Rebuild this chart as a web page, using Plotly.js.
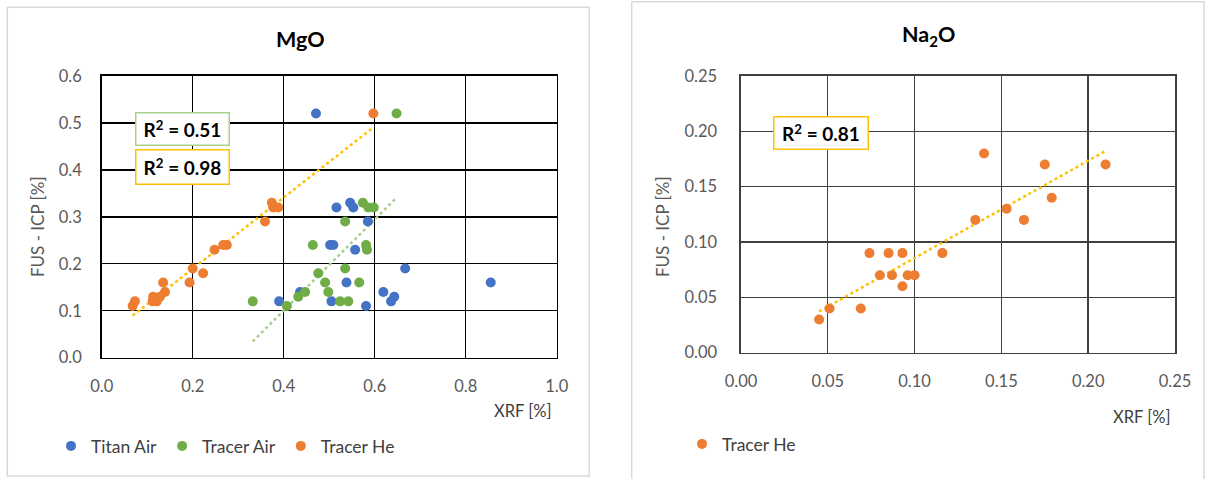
<!DOCTYPE html>
<html>
<head>
<meta charset="utf-8">
<script src="https://cdn.plot.ly/plotly-3.0.1.min.js"></script>
<style>html,body{margin:0;padding:0;background:#fff}#chart{width:1206px;height:479px}</style>
</head>
<body>
<div id="chart"></div>
<script>
// ---- MgO data ----
var titanAirX  = [0.390, 0.436, 0.471, 0.502, 0.509, 0.505, 0.516, 0.546, 0.553, 0.538, 0.557, 0.585, 0.581, 0.619, 0.636, 0.643, 0.667, 0.855];
var titanAirY  = [0.12, 0.14, 0.52, 0.24, 0.24, 0.12, 0.32, 0.33, 0.32, 0.16, 0.23, 0.29, 0.11, 0.14, 0.12, 0.13, 0.19, 0.16];
var tracerAirX = [0.332, 0.407, 0.432, 0.447, 0.464, 0.476, 0.491, 0.498, 0.524, 0.542, 0.535, 0.566, 0.535, 0.574, 0.586, 0.598, 0.581, 0.583, 0.648];
var tracerAirY = [0.12, 0.11, 0.13, 0.14, 0.24, 0.18, 0.16, 0.14, 0.12, 0.12, 0.19, 0.16, 0.29, 0.33, 0.32, 0.32, 0.24, 0.23, 0.52];
var tracerHeX  = [0.068, 0.073, 0.112, 0.121, 0.113, 0.128, 0.139, 0.135, 0.193, 0.200, 0.223, 0.248, 0.267, 0.275, 0.359, 0.374, 0.377, 0.388, 0.597];
var tracerHeY  = [0.11, 0.12, 0.12, 0.12, 0.13, 0.13, 0.14, 0.16, 0.16, 0.19, 0.18, 0.23, 0.24, 0.24, 0.29, 0.33, 0.32, 0.32, 0.52];
var mgoR2Air = "0.51", mgoR2He = "0.98";

// ---- Na2O data ----
var naHeX = [0.045, 0.051, 0.069, 0.074, 0.085, 0.093, 0.080, 0.087, 0.093, 0.096, 0.100, 0.116, 0.135, 0.140, 0.153, 0.163, 0.175, 0.179, 0.210];
var naHeY = [0.03, 0.04, 0.04, 0.09, 0.09, 0.09, 0.07, 0.07, 0.06, 0.07, 0.07, 0.09, 0.12, 0.18, 0.13, 0.12, 0.17, 0.14, 0.17];
var naR2He = "0.81";

var mgoXTicks = [0, 0.2, 0.4, 0.6, 0.8, 1.0];
var mgoYTicks = [0, 0.1, 0.2, 0.3, 0.4, 0.5, 0.6];
var naXTicks = [0, 0.05, 0.10, 0.15, 0.20, 0.25];
var naYTicks = [0, 0.05, 0.10, 0.15, 0.20, 0.25];

var BLUE = '#4472c4', GREEN = '#70ad47', ORANGE = '#ed7d31';
var FONT = 'Lato, "Open Sans", sans-serif';
var W = 1206, H = 479;

function fit(xs, ys) {
  var n = xs.length, sx = 0, sy = 0, sxx = 0, sxy = 0;
  for (var i = 0; i < n; i++) { sx += xs[i]; sy += ys[i]; sxx += xs[i]*xs[i]; sxy += xs[i]*ys[i]; }
  var b = (n*sxy - sx*sy) / (n*sxx - sx*sx);
  var a = (sy - b*sx) / n;
  var x0 = Math.min.apply(null, xs), x1 = Math.max.apply(null, xs);
  return {x: [x0, x1], y: [a + b*x0, a + b*x1]};
}
function px(x) { return x / W; }
function py(y) { return 1 - y / H; }

var fAir = fit(tracerAirX, tracerAirY);
var fHe = fit(tracerHeX, tracerHeY);
var fNa = fit(naHeX, naHeY);

var mk = function (c) { return {color: c, size: 10}; };
var traces = [
  {x: fAir.x, y: fAir.y, mode: 'lines', line: {color: '#a9d18e', width: 2.5, dash: 'dot'}, showlegend: false, xaxis: 'x', yaxis: 'y', hoverinfo: 'skip'},
  {x: fHe.x, y: fHe.y, mode: 'lines', line: {color: '#ffc000', width: 2.5, dash: 'dot'}, showlegend: false, xaxis: 'x', yaxis: 'y', hoverinfo: 'skip'},
  {x: titanAirX, y: titanAirY, mode: 'markers', name: 'Titan Air', marker: mk(BLUE), xaxis: 'x', yaxis: 'y', legend: 'legend'},
  {x: tracerAirX, y: tracerAirY, mode: 'markers', name: 'Tracer Air', marker: mk(GREEN), xaxis: 'x', yaxis: 'y', legend: 'legend'},
  {x: tracerHeX, y: tracerHeY, mode: 'markers', name: 'Tracer He', marker: mk(ORANGE), xaxis: 'x', yaxis: 'y', legend: 'legend'},
  {x: fNa.x, y: fNa.y, mode: 'lines', line: {color: '#ffc000', width: 2.5, dash: 'dot'}, showlegend: false, xaxis: 'x2', yaxis: 'y2', hoverinfo: 'skip'},
  {x: naHeX, y: naHeY, mode: 'markers', name: 'Tracer He', marker: mk(ORANGE), xaxis: 'x2', yaxis: 'y2', legend: 'legend2'}
];

function axis(extra) {
  var a = {
    showgrid: true, gridcolor: '#000', gridwidth: 1.4,
    showline: true, linecolor: '#000', linewidth: 1.6, mirror: true,
    zeroline: false, ticks: '', ticklabelstandoff: 10,
    tickfont: {family: FONT, size: 16.5, color: '#595959'}
  };
  for (var k in extra) a[k] = extra[k];
  return a;
}

var tfont = {family: FONT, size: 17, color: '#595959'};
var lfont = {family: FONT, size: 17.5, color: '#404040'};
var layout = {
  width: W, height: H,
  margin: {l: 0, r: 0, t: 0, b: 0},
  paper_bgcolor: '#fff', plot_bgcolor: '#fff',
  showlegend: true,
  xaxis: axis({domain: [px(101.7), px(556.7)], range: [0, 1.0], tickvals: mgoXTicks, tickformat: '.1f', anchor: 'y', ticklabelstandoff: 13}),
  yaxis: axis({domain: [py(357.7), py(76)], range: [0, 0.6], tickvals: mgoYTicks, tickformat: '.1f', anchor: 'x', ticklabelstandoff: 15}),
  xaxis2: axis({domain: [px(741), px(1175)], range: [0, 0.25], tickvals: naXTicks, tickformat: '.2f', anchor: 'y2', gridcolor: '#404040', linecolor: '#404040', ticklabelstandoff: 13}),
  yaxis2: axis({domain: [py(352.7), py(76)], range: [0, 0.25], tickvals: naYTicks, tickformat: '.2f', anchor: 'x2', gridcolor: '#404040', linecolor: '#404040', ticklabelstandoff: 19}),
  legend: {orientation: 'h', x: px(51), y: py(446), xanchor: 'left', yanchor: 'middle', font: lfont, itemwidth: 30, bgcolor: 'rgba(0,0,0,0)'},
  legend2: {orientation: 'h', x: px(682), y: py(444), xanchor: 'left', yanchor: 'middle', font: lfont, itemwidth: 30, bgcolor: 'rgba(0,0,0,0)'},
  shapes: [
    {type: 'rect', xref: 'paper', yref: 'paper', x0: px(7.3), x1: px(589.3), y0: py(476), y1: py(7.3), line: {color: '#d9d9d9', width: 1.5}, layer: 'below'},
    {type: 'rect', xref: 'paper', yref: 'paper', x0: px(631.7), x1: px(1204), y0: py(480), y1: py(1.7), line: {color: '#d9d9d9', width: 1.5}, layer: 'below'}
  ],
  annotations: [
    {text: '<b>MgO</b>', xref: 'paper', yref: 'paper', x: px(300), y: py(39), xanchor: 'center', yanchor: 'middle', showarrow: false, font: {family: FONT, size: 21.5, color: '#000'}},
    {text: '<b>Na<sub>2</sub>O</b>', xref: 'paper', yref: 'paper', x: px(928), y: py(36), xanchor: 'center', yanchor: 'middle', showarrow: false, font: {family: FONT, size: 21.5, color: '#000'}},
    {text: 'FUS - ICP [%]', xref: 'paper', yref: 'paper', x: px(37), y: py(227), textangle: -90, xanchor: 'center', yanchor: 'middle', showarrow: false, font: tfont},
    {text: 'FUS - ICP [%]', xref: 'paper', yref: 'paper', x: px(662), y: py(227), textangle: -90, xanchor: 'center', yanchor: 'middle', showarrow: false, font: tfont},
    {text: 'XRF [%]', xref: 'paper', yref: 'paper', x: px(554), y: py(411), xanchor: 'right', yanchor: 'middle', showarrow: false, font: {family: FONT, size: 16.5, color: '#404040'}},
    {text: 'XRF [%]', xref: 'paper', yref: 'paper', x: px(1173), y: py(417), xanchor: 'right', yanchor: 'middle', showarrow: false, font: {family: FONT, size: 16.5, color: '#404040'}},
    {text: '<b>R<sup>2</sup> = ' + mgoR2Air + '</b>', xref: 'paper', yref: 'paper', x: px(182.5), y: py(129), xanchor: 'center', yanchor: 'middle', showarrow: false, width: 88, height: 27, bgcolor: '#fff', bordercolor: '#a9d18e', borderwidth: 1.5, borderpad: 2, font: {family: FONT, size: 19, color: '#000'}},
    {text: '<b>R<sup>2</sup> = ' + mgoR2He + '</b>', xref: 'paper', yref: 'paper', x: px(182.5), y: py(167), xanchor: 'center', yanchor: 'middle', showarrow: false, width: 88, height: 29, bgcolor: '#fff', bordercolor: '#ffc000', borderwidth: 1.5, borderpad: 2, font: {family: FONT, size: 19, color: '#000'}},
    {text: '<b>R<sup>2</sup> = ' + naR2He + '</b>', xref: 'paper', yref: 'paper', x: px(821), y: py(133), xanchor: 'center', yanchor: 'middle', showarrow: false, width: 89, height: 27, bgcolor: '#fff', bordercolor: '#ffc000', borderwidth: 1.5, borderpad: 2, font: {family: FONT, size: 19, color: '#000'}}
  ]
};

Plotly.newPlot('chart', traces, layout, {displayModeBar: false, staticPlot: true});
</script>
</body>
</html>
